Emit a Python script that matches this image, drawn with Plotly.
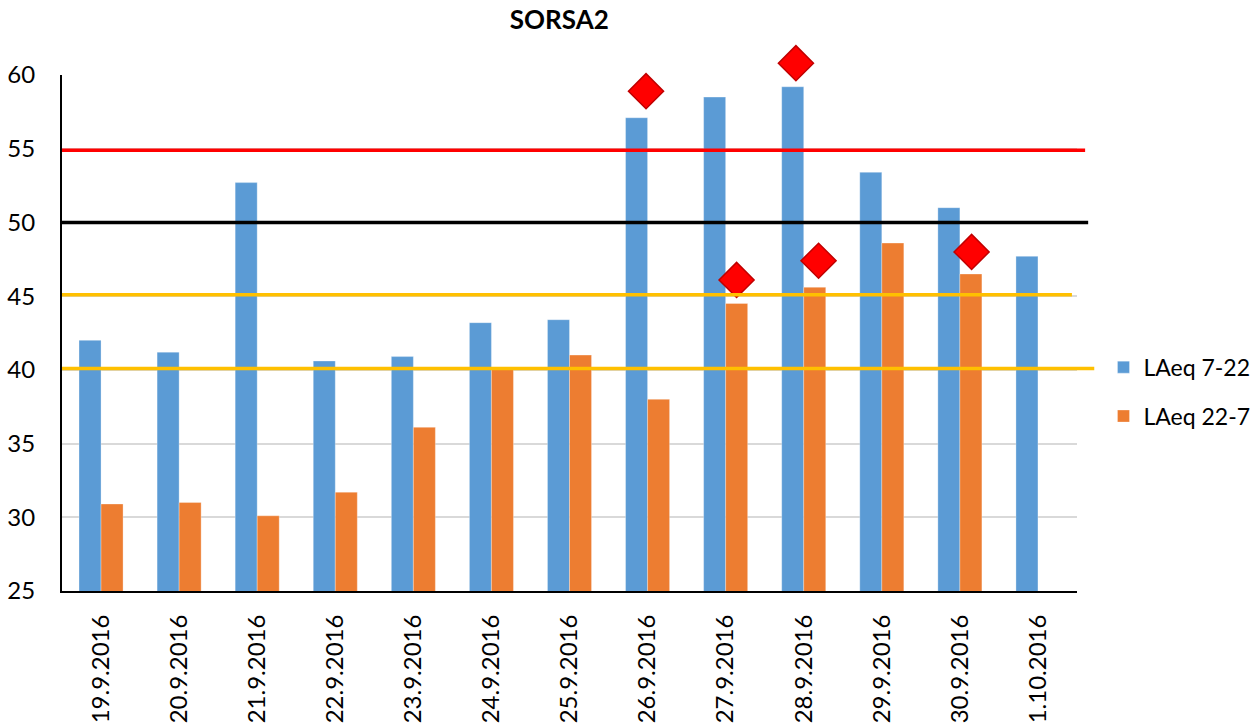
import plotly.graph_objects as go

# Data
dates = ["19.9.2016", "20.9.2016", "21.9.2016", "22.9.2016", "23.9.2016",
         "24.9.2016", "25.9.2016", "26.9.2016", "27.9.2016", "28.9.2016",
         "29.9.2016", "30.9.2016", "1.10.2016"]
laeq_day = [42.0, 41.2, 52.7, 40.6, 40.9, 43.2, 43.4, 57.1, 58.5, 59.2, 53.4, 51.0, 47.7]
laeq_night = [30.9, 31.0, 30.1, 31.7, 36.1, 40.1, 41.0, 38.0, 44.5, 45.6, 48.6, 46.5, None]

# red diamond markers: date index, value, side shift inside the date slot
marker_idx = [7, 8, 9, 9, 11]
marker_val = [58.9, 46.1, 60.8, 47.4, 48.0]
marker_shift = [-0.02, 0.14, -0.10, 0.19, 0.15]

# horizontal limit lines: value, colour, right end (paper)
limit_vals = [54.9, 50.0, 45.1, 40.1]
limit_cols = ["#FF0000", "#000000", "#FFC000", "#FFC000"]
limit_ends = [1.008, 1.011, 0.995, 1.017]

x_pos = list(range(len(dates)))

# main plot area is 516 px tall; an invisible second y axis spans a bit more
# (same scale) so the diamond above 60 still gets drawn
y_lo, y_hi = 25, 60
top_m = 40
dom = 516 / (516 + 75 - top_m)
y2_hi = y_lo + (y_hi - y_lo) / dom

fig = go.Figure()
fig.add_trace(go.Bar(x=x_pos, y=laeq_day, name="LAeq 7-22", marker_color="#5B9BD5",
                     marker_line=dict(color="rgba(255,255,255,0.6)", width=0.5),
                     legendgroup="a", base=0))
fig.add_trace(go.Bar(x=x_pos, y=laeq_night, name="LAeq 22-7", marker_color="#ED7D31",
                     marker_line=dict(color="rgba(255,255,255,0.6)", width=0.5),
                     legendgroup="b", base=0))

for v, c, e in zip(limit_vals, limit_cols, limit_ends):
    fig.add_shape(type="line", xref="paper", x0=0, x1=e, yref="y", y0=v, y1=v,
                  line=dict(color=c, width=3.5))

fig.add_trace(go.Scatter(
    x=[i + s for i, s in zip(marker_idx, marker_shift)], y=marker_val,
    yaxis="y2", mode="markers", showlegend=False, cliponaxis=False,
    marker=dict(symbol="diamond", size=27, color="#FF0000",
                line=dict(color="#C00000", width=1.5))))

fig.update_layout(
    width=1258, height=724,
    margin=dict(l=62, r=181, t=top_m, b=133, autoexpand=False),
    paper_bgcolor="white", plot_bgcolor="rgba(0,0,0,0)",
    font=dict(family="Lato, Carlito, sans-serif", size=24, color="#000000"),
    title=dict(text="<b>SORSA2</b>", x=0.49, xref="paper", xanchor="center",
               y=0.972, yanchor="middle", font=dict(size=26)),
    barmode="group", bargap=0.436, bargroupgap=0,
    legend=dict(xref="container", yref="container", x=0.998, y=0.459,
                xanchor="right", yanchor="middle",
                font=dict(size=23), traceorder="grouped", tracegroupgap=16,
                itemwidth=30),
    showlegend=True,
    yaxis=dict(domain=[0, dom], range=[y_lo, y_hi], dtick=5, showgrid=True,
               gridcolor="#D9D9D9", gridwidth=1.5, zeroline=False, showline=True,
               linecolor="black", linewidth=2, ticks="outside", ticklen=20,
               tickcolor="rgba(0,0,0,0)", automargin=False),
    yaxis2=dict(domain=[0, 1], range=[y_lo, y2_hi], anchor="x", visible=False,
                showgrid=False, zeroline=False, automargin=False),
)
fig.update_xaxes(range=[-0.5, len(dates) - 0.5], tickvals=x_pos, ticktext=dates,
                 tickangle=-90, showgrid=False, zeroline=False, automargin=False,
                 showline=True, linecolor="black", linewidth=2,
                 ticks="outside", ticklen=12, tickcolor="rgba(0,0,0,0)")

# the page body has a default 8px margin; drop it so the chart sits at 0,0
fig.write_html("out.html", config={"displayModeBar": False},
               post_script="document.body.style.margin='0';")
